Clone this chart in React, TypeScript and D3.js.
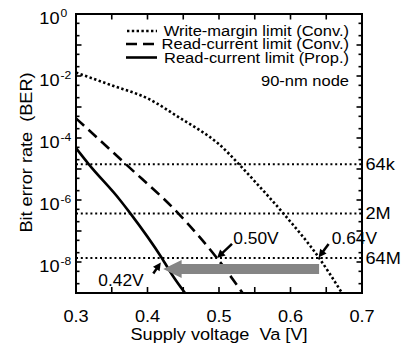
import React from "react";
import * as d3 from "d3";

// ---- data ----
const xTickValues = [0.3, 0.4, 0.5, 0.6, 0.7];
const xMinorTicks = [0.3, 0.35, 0.4, 0.45, 0.5, 0.55, 0.6, 0.65, 0.7];
const yLabelExps = [0, -2, -4, -6, -8];

// Write-margin limit (Conv.)
const wmV = [0.30, 0.35, 0.40, 0.45, 0.473, 0.50, 0.527, 0.55, 0.59, 0.64, 0.672];
const wmBER = [1.29e-2, 5.0e-3, 1.9e-3, 3.8e-4, 1.8e-4, 6.3e-5, 1.5e-5, 4.0e-6, 3.7e-7, 1.35e-8, 1e-9];
// Read-current limit (Conv.)
const rcV = [0.30, 0.37, 0.443, 0.497, 0.533];
const rcBER = [4.3e-4, 1.41e-5, 3.7e-7, 1.35e-8, 1e-9];
// Read-current limit (Prop.)
const rpV = [0.30, 0.318, 0.3615, 0.376, 0.42, 0.436, 0.4525];
const rpBER = [4.7e-5, 1.41e-5, 1.0e-6, 3.7e-7, 1.35e-8, 3.4e-9, 1e-9];

// capacity lines
const capLabels = ["64k", "2M", "64M"];
const capBER = [1.41e-5, 3.7e-7, 1.35e-8];

const legendLabels = ["Write-margin limit (Conv.)", "Read-current limit (Conv.)", "Read-current limit (Prop.)"];
const voltLabels = ["0.42V", "0.50V", "0.64V"];
const voltValues = [0.42, 0.5, 0.64];
const grayArrowFrom = 0.64;
const grayArrowTo = 0.422;
const grayArrowBER = 5.9e-9;

const FONT = "'Liberation Sans', Arial, Helvetica, sans-serif";

function T({ x, y, children, anchor = "start", size = 16.5, rotate = 0 }: any) {
  return (
    <text
      transform={`translate(${x},${y}) rotate(${rotate}) scale(1.1,1)`}
      textAnchor={anchor}
      fontSize={size}
      fontFamily={FONT}
      fill="#000"
      style={{ whiteSpace: "pre" }}
    >
      {children}
    </text>
  );
}

function SmallArrow({ x1, y1, x2, y2 }: any) {
  const dx = x2 - x1, dy = y2 - y1;
  const L = Math.hypot(dx, dy);
  const ux = dx / L, uy = dy / L;
  const nx = -uy, ny = ux;
  const hl = 8, hw = 4;
  const bx = x2 - ux * hl, by = y2 - uy * hl;
  return (
    <g>
      <line x1={x1} y1={y1} x2={x2 - ux * 5} y2={y2 - uy * 5} stroke="#000" strokeWidth={2.5} />
      <polygon points={`${x2},${y2} ${bx + nx * hw},${by + ny * hw} ${bx - nx * hw},${by - ny * hw}`} fill="#000" />
    </g>
  );
}

export default function App() {
  const W = 417, H = 346;
  const L = 76, R = 362, Tp = 14, B = 293;
  const x = d3.scaleLinear().domain([0.3, 0.7]).range([L, R]);
  const y = d3.scaleLog().domain([1, 1e-9]).range([Tp, B]);

  const line = d3
    .line<[number, number]>()
    .x((d) => x(d[0]))
    .y((d) => y(d[1]))
    .curve(d3.curveMonotoneX);

  const wm = wmV.map((v, i) => [v, wmBER[i]] as [number, number]);
  const rc = rcV.map((v, i) => [v, rcBER[i]] as [number, number]);
  const rp = rpV.map((v, i) => [v, rpBER[i]] as [number, number]);

  // y ticks: 1,2,5 per decade
  const yTicks: { v: number; major: boolean }[] = [];
  for (let e = 0; e >= -9; e--) {
    yTicks.push({ v: Math.pow(10, e), major: true });
    if (e > -9) {
      yTicks.push({ v: 5 * Math.pow(10, e - 1), major: false });
      yTicks.push({ v: 2 * Math.pow(10, e - 1), major: false });
    }
  }

  // gray arrow
  const gy = y(grayArrowBER);
  const gTip = x(grayArrowTo);
  const gEnd = x(grayArrowFrom);
  const gBase = gTip + 18.4;
  const grayPts = [
    [gTip, gy],
    [gBase, gy - 9],
    [gBase, gy - 5],
    [gEnd, gy - 5],
    [gEnd, gy + 5],
    [gBase, gy + 5],
    [gBase, gy + 9],
  ]
    .map((p) => p.join(","))
    .join(" ");

  const y64M = y(capBER[2]);

  return (
    <svg width={W} height={H} style={{ position: "absolute", left: 0, top: 0, background: "#fff" }}>
      <rect x={0} y={0} width={W} height={H} fill="#fff" />

      {/* capacity lines */}
      {capBER.map((b, i) => (
        <g key={capLabels[i]}>
          <line x1={L} x2={R} y1={y(b)} y2={y(b)} stroke="#000" strokeWidth={2} strokeDasharray="2 2.8" />
          <T x={365.5} y={y(b) + 5.8}>{capLabels[i]}</T>
        </g>
      ))}

      {/* curves */}
      <path d={line(wm) || ""} fill="none" stroke="#000" strokeWidth={2.6} strokeDasharray="2.4 2.4" />
      <path d={line(rc) || ""} fill="none" stroke="#000" strokeWidth={2.6} strokeDasharray="11 6" />
      <path d={line(rp) || ""} fill="none" stroke="#000" strokeWidth={2.6} />

      {/* gray arrow */}
      <polygon points={grayPts} fill="#858585" />

      {/* small arrows + labels */}
      <SmallArrow x1={x(voltValues[0]) - 8.5} y1={y64M + 15.5} x2={x(voltValues[0]) - 1} y2={y64M + 4.5} />
      <T x={98.3} y={285.5} size={15.8}>{voltLabels[0]}</T>
      <SmallArrow x1={x(voltValues[1]) + 13} y1={y64M - 14} x2={x(voltValues[1]) - 2} y2={y64M} />
      <T x={233.3} y={244.3} size={15.8}>{voltLabels[1]}</T>
      <SmallArrow x1={x(voltValues[2]) + 9.5} y1={y64M - 14} x2={x(voltValues[2]) - 0.5} y2={y64M - 0.5} />
      <T x={331.7} y={244.3} size={15.8}>{voltLabels[2]}</T>

      {/* frame */}
      <rect x={L} y={Tp} width={R - L} height={B - Tp} fill="none" stroke="#000" strokeWidth={2} />

      {/* x ticks */}
      {xMinorTicks.map((v) => (
        <g key={v}>
          <line x1={x(v)} x2={x(v)} y1={B} y2={B - 6} stroke="#000" strokeWidth={1.6} />
          <line x1={x(v)} x2={x(v)} y1={Tp} y2={Tp + 5.5} stroke="#000" strokeWidth={1.6} />
        </g>
      ))}
      {xTickValues.map((v) => (
        <T key={v} x={x(v)} y={321.7} anchor="middle">{d3.format(".1f")(v)}</T>
      ))}

      {/* y ticks */}
      {yTicks.map((t, i) => (
        <g key={i}>
          <line x1={L} x2={L + (t.major ? 5.5 : 3.5)} y1={y(t.v)} y2={y(t.v)} stroke="#000" strokeWidth={1.6} />
          <line x1={R} x2={R - (t.major ? 5.5 : 3.5)} y1={y(t.v)} y2={y(t.v)} stroke="#000" strokeWidth={1.6} />
        </g>
      ))}
      {yLabelExps.map((e) => {
        const ty = y(Math.pow(10, e));
        return (
          <g key={e}>
            <T x={59.5} y={ty + 9.8} anchor="end">10</T>
            <T x={60.5} y={ty + 2.5} size={11}>{String(e)}</T>
          </g>
        );
      })}

      {/* legend */}
      <line x1={127} x2={157} y1={31} y2={31} stroke="#000" strokeWidth={2.6} strokeDasharray="2.4 2.4" />
      <line x1={126} x2={157} y1={44} y2={44} stroke="#000" strokeWidth={2.6} strokeDasharray="11 6" />
      <line x1={126} x2={157} y1={57.5} y2={57.5} stroke="#000" strokeWidth={2.6} />
      <T x={349} y={36} anchor="end" size={15}>{legendLabels[0]}</T>
      <T x={349} y={49} anchor="end" size={15}>{legendLabels[1]}</T>
      <T x={349} y={62.5} anchor="end" size={15}>{legendLabels[2]}</T>
      <T x={349} y={86} anchor="end" size={15}>90-nm node</T>

      {/* axis titles */}
      <T x={219} y={340} anchor="middle">{"Supply voltage  Va [V]"}</T>
      <T x={32} y={152.5} anchor="middle" rotate={-90}>{"Bit error rate  (BER)"}</T>
    </svg>
  );
}
